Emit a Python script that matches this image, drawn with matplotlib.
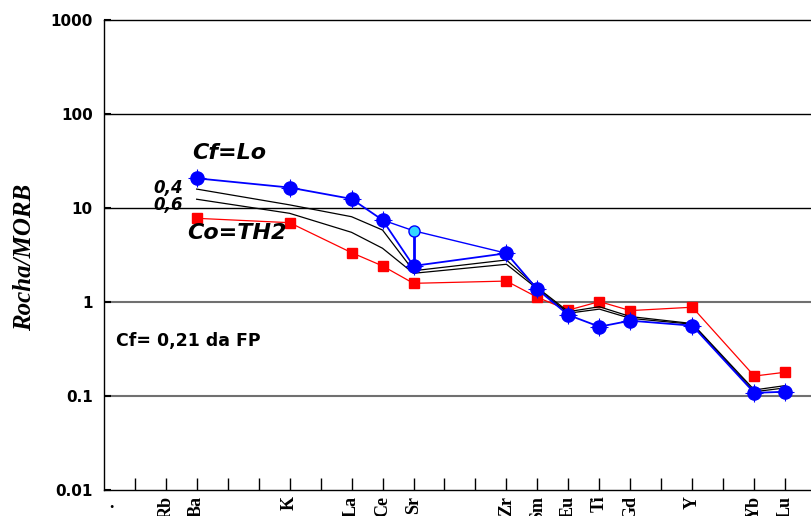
#spider diagram: rock / MORB, fractional crystallisation model
import numpy as np
import matplotlib
matplotlib.use("Agg")
import matplotlib.pyplot as plt
import matplotlib.transforms as mtransforms

#element labels and their slots on the x axis
elements = ["Rb", "Ba", "K", "La", "Ce", "Sr", "Zr", "Sm", "Eu", "Ti", "Gd", "Y", "Yb", "Lu"]
element_slots = [2, 3, 6, 8, 9, 10, 13, 14, 15, 16, 17, 19, 21, 22]

#data elements (Rb has no value)
data_elements = ["Ba", "K", "La", "Ce", "Sr", "Zr", "Sm", "Eu", "Ti", "Gd", "Y", "Yb", "Lu"]

#Cf = Lo (final liquid)
cf_lo = [20.7, 16.5, 12.5, 7.45, 2.42, 3.30, 1.36, 0.727, 0.546, 0.633, 0.56, 0.108, 0.111]
#alternative Sr value for Cf (cyan point)
cf_sr_alt = 5.73
#Co = TH2 (starting composition)
co_th2 = [7.77, 6.98, 3.35, 2.42, 1.58, 1.67, 1.12, 0.82, 1.01, 0.81, 0.88, 0.163, 0.179]
#intermediate steps F = 0.4 and F = 0.6
f_04 = [15.9, 10.8, 8.08, 5.83, 2.15, 2.80, 1.42, 0.79, 0.89, 0.70, 0.59, 0.116, 0.129]
f_06 = [12.4, 8.78, 5.51, 3.73, 2.02, 2.52, 1.38, 0.76, 0.84, 0.67, 0.58, 0.111, 0.122]

y_ticks = [0.01, 0.1, 1, 10, 100, 1000]
y_tick_labels = ["0.01", "0.1", "1", "10", "100", "1000"]

slot = dict(zip(elements, element_slots))
xd = np.array([slot[e] for e in data_elements])

fig = plt.figure(figsize=(8.11, 5.16), dpi=100)
ax = fig.add_axes([103.7 / 811, 26 / 516, 1 - 103.7 / 811, 470 / 516])
ax.set_yscale("log")
ax.set_ylim(0.01, 1000)
ax.set_xlim(0, (811 - 103.7) / 30.98)

#horizontal reference lines
for val, col, lw in [(100, "black", 1.0), (10, "black", 1.0), (1, "#707070", 1.5), (0.1, "#707070", 1.5)]:
    ax.axhline(val, color=col, lw=lw, zorder=1)

#starting composition (red)
ax.plot(xd, co_th2, color="red", lw=0.9, marker="s", ms=7, mfc="red", mec="red", zorder=3)

#intermediate curves (black)
ax.plot(xd, f_04, color="black", lw=0.9, zorder=3)
ax.plot(xd, f_06, color="black", lw=0.9, zorder=3)

#final liquid (blue) plus the alternative Sr branch
i_ce = data_elements.index("Ce")
i_sr = data_elements.index("Sr")
i_zr = data_elements.index("Zr")
ax.plot([xd[i_ce], xd[i_sr], xd[i_zr]], [cf_lo[i_ce], cf_sr_alt, cf_lo[i_zr]], color="blue", lw=1.0, zorder=4)
ax.plot([xd[i_sr], xd[i_sr]], [cf_lo[i_sr], cf_sr_alt], color="blue", lw=2.0, zorder=4)
ax.plot(xd, cf_lo, color="blue", lw=1.3, zorder=5)
ax.plot(xd, cf_lo, ls="none", marker="+", ms=13, mew=0.8, color="blue", zorder=6)
ax.plot(xd, cf_lo, ls="none", marker="o", ms=9.5, mfc="blue", mec="blue", zorder=6)
ax.plot([xd[i_sr]], [cf_sr_alt], ls="none", marker="o", ms=8, mfc="#33d6ff", mec="blue", mew=1.0, zorder=7)

#annotations
ax.text(2.85, 38.5, "Cf=Lo", fontsize=16, fontweight="bold", fontstyle="italic", va="center", ha="left")
ax.text(1.59, 16.3, "0,4", fontsize=12, fontweight="bold", fontstyle="italic", va="center", ha="left")
ax.text(1.59, 10.8, "0,6", fontsize=12, fontweight="bold", fontstyle="italic", va="center", ha="left")
ax.text(2.69, 5.42, "Co=TH2", fontsize=16, fontweight="bold", fontstyle="italic", va="center", ha="left")
ax.text(0.40, 0.385, "Cf= 0,21 da FP", fontsize=12.5, fontweight="bold", va="center", ha="left")

#x axis: ticks at every slot, labels only on elements
ticks = list(range(1, 23))
labels = [""] * len(ticks)
for e, s in zip(elements, element_slots):
    labels[ticks.index(s)] = e
ax.set_xticks(ticks)
ax.set_xticklabels(labels, rotation=90, fontfamily="Liberation Serif", fontweight="bold", fontsize=13, va="top")
ax.tick_params(axis="x", direction="in", length=9, width=1, pad=4)
trans = mtransforms.blended_transform_factory(ax.transData, ax.transAxes)
ax.text(0.26, -0.01, ".", transform=trans, fontfamily="Liberation Serif", fontweight="bold", fontsize=13, ha="center", va="top")

#y axis
ax.set_yticks(y_ticks)
ax.set_yticklabels(y_tick_labels, fontsize=11, fontweight="bold")
ax.yaxis.set_minor_locator(matplotlib.ticker.NullLocator())
ax.tick_params(axis="y", direction="in", length=5, width=1.5, pad=8)

ax.spines["right"].set_visible(False)
for s in ["left", "bottom", "top"]:
    ax.spines[s].set_linewidth(1.0)

fig.text(25 / 811, 1 - 257 / 516, "Rocha/MORB", rotation=90, fontfamily="Liberation Serif", fontweight="bold", fontstyle="italic", fontsize=18, ha="center", va="center")

fig.savefig("out.png", dpi=100)
